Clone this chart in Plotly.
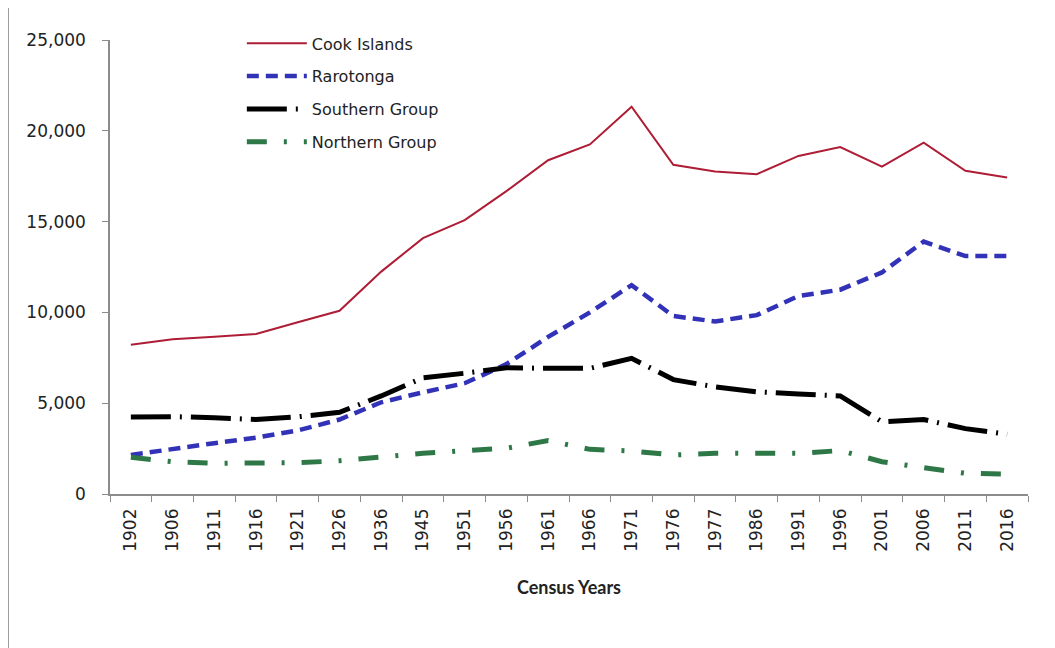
import plotly.graph_objects as go

years = ['1902', '1906', '1911', '1916', '1921', '1926', '1936', '1945', '1951', '1956',
         '1961', '1966', '1971', '1976', '1977', '1986', '1991', '1996', '2001', '2006',
         '2011', '2016']
cook_islands = [8213, 8518, 8665, 8807, 9459, 10090, 12246, 14088, 15079, 16680,
                18378, 19251, 21323, 18128, 17754, 17614, 18617, 19103, 18027, 19342,
                17794, 17434]
rarotonga = [2150, 2500, 2800, 3100, 3500, 4100, 5050, 5600, 6100, 7150,
             8650, 10000, 11500, 9800, 9500, 9850, 10900, 11250, 12200, 13900,
             13100, 13100]
southern_group = [4240, 4260, 4200, 4100, 4250, 4500, 5400, 6400, 6650, 6950,
                  6920, 6920, 7470, 6300, 5900, 5630, 5500, 5400, 3980, 4100,
                  3600, 3290]
northern_group = [2020, 1780, 1690, 1690, 1720, 1830, 2050, 2240, 2390, 2520,
                  2940, 2460, 2370, 2150, 2240, 2240, 2240, 2390, 1780, 1450,
                  1140, 1100]

series = [
    ("Cook Islands", cook_islands, "#AE1D36", 2, "solid"),
    ("Rarotonga", rarotonga, "#3232B8", 4.5, "12px,7px"),
    ("Southern Group", southern_group, "#000000", 5, "40px,9px,2px,9px"),
    ("Northern Group", northern_group, "#2E7848", 5, "20px,17px,3px,17px"),
]

fig = go.Figure()
for i, (name, vals, color, width, dash) in enumerate(series):
    fig.add_trace(go.Scatter(
        x=years, y=vals, name=name, mode="lines",
        line=dict(color=color, width=width, dash=dash),
        legendgroup=f"g{i}",
    ))

fig.update_layout(
    width=1055, height=648,
    margin=dict(l=102, r=35, t=32, b=162, autoexpand=False),
    paper_bgcolor="white", plot_bgcolor="white",
    font=dict(family="DejaVu Sans", size=17, color="#222222"),
    showlegend=True,
    legend=dict(
        x=0.1436, y=1.03, xanchor="left", yanchor="top",
        font=dict(family="DejaVu Sans", size=16, color="#222222"),
        bgcolor="rgba(0,0,0,0)", tracegroupgap=9, itemwidth=60,
    ),
    xaxis=dict(
        type="category", range=[-0.5, len(years) - 0.5],
        showgrid=False, zeroline=False, automargin=False,
        showline=True, linecolor="#8c8c8c", linewidth=1.5,
        ticks="outside", ticklen=6, tickcolor="#8c8c8c", tickson="boundaries",
        tickangle=-90, ticklabelstandoff=6,
        tickfont=dict(family="DejaVu Sans", size=17, color="#222222"),
        title=dict(text="<b>Census Years</b>", font=dict(family="Lato", size=18, color="#222222"), standoff=31),
    ),
    yaxis=dict(
        range=[0, 25000], dtick=5000, tickformat=",",
        showgrid=False, zeroline=False, automargin=False,
        showline=True, linecolor="#8c8c8c", linewidth=1.5,
        ticks="outside", ticklen=6, tickcolor="#8c8c8c", ticklabelstandoff=13,
        tickfont=dict(family="DejaVu Sans", size=17, color="#222222"),
    ),
    shapes=[dict(type="line", xref="paper", yref="paper",
                 x0=-0.111, x1=-0.111, y0=-0.34, y1=1.09,
                 line=dict(color="#8c8c8c", width=1.5))],
)

fig.write_html("out.html")
